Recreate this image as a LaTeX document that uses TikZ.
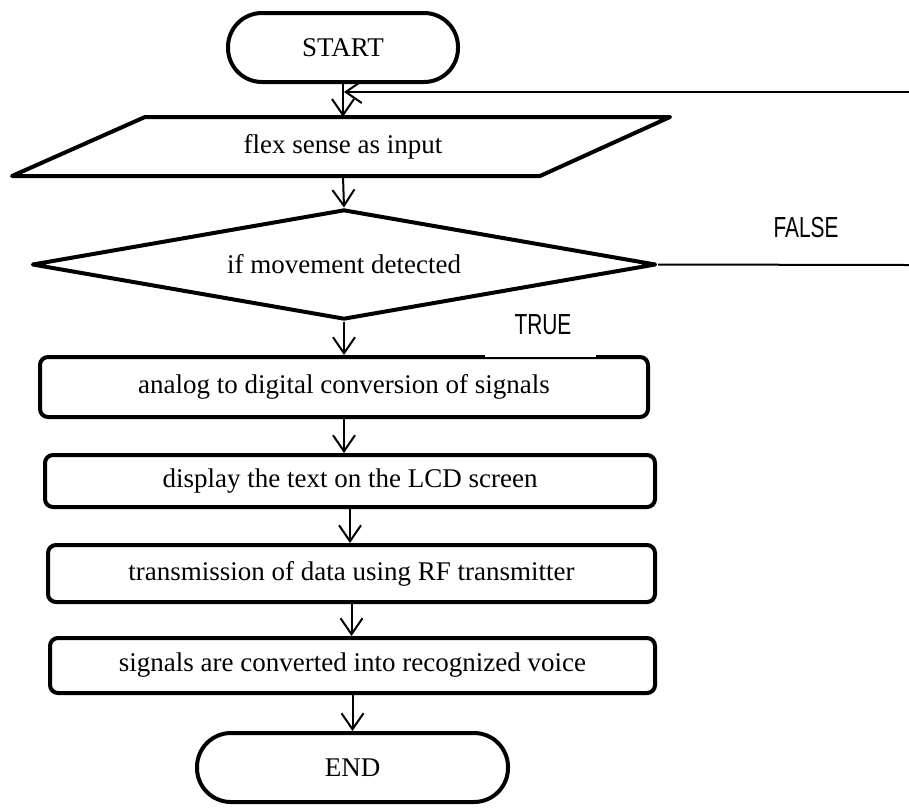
\documentclass[tikz,border=0pt]{standalone}
\usepackage{fontspec}
\setmainfont{Liberation Serif}
\newfontfamily\narrowsans[FakeStretch=0.72]{Liberation Sans}
\usetikzlibrary{shapes.geometric,arrows.meta}
\begin{document}
\begin{tikzpicture}[x=1pt,y=-1pt,
  every node/.style={font=\fontsize{27}{30}\selectfont},
  term/.style={draw, line width=4pt, rounded corners=34pt, inner sep=0pt, minimum height=69pt},
  procbox/.style={draw, line width=4pt, rounded corners=8pt, inner sep=0pt},
  shapeline/.style={line width=4pt, line join=round},
  arr/.style={line width=2pt, -{Straight Barb[length=16pt,width=22pt]}},
  plainline/.style={line width=2pt},
  lbl/.style={font=\narrowsans\fontsize{29}{32}\selectfont, inner sep=0pt}
]
\useasboundingbox (0,0) rectangle (909,807);

% terminals
\node[term, minimum width=230pt] (start) at (343,47.5) {\raisebox{-4pt}{START}};
\node[term, minimum width=311pt] (end) at (352.5,767.5) {\raisebox{-4pt}{END}};

% input parallelogram
\draw[shapeline] (145,117) -- (670,117) -- (540,176) -- (12,176) -- cycle;
\node[inner sep=0pt, minimum width=400pt, minimum height=59pt] (inp) at (343,146.5) {flex sense as input};

% decision
\node[draw, diamond, shapeline, inner sep=0pt, aspect=5.67, minimum width=624pt, minimum height=110pt] (dec) at (344,264.5) {if movement detected};

% process boxes
\node[procbox, minimum width=608pt, minimum height=60pt] (b1) at (344,387) {analog to digital conversion of signals};
\node[procbox, minimum width=610pt, minimum height=52pt] (b2) at (350,481) {display the text on the LCD screen};
\node[procbox, minimum width=607pt, minimum height=57pt] (b3) at (351.5,573.5) {transmission of data using RF transmitter};
\node[procbox, minimum width=605pt, minimum height=55pt] (b4) at (352.5,665.5) {signals are converted into recognized voice};

% white patch behind TRUE label
\fill[white] (485,302) rectangle (596,357);

% labels
\node[lbl] (ltrue) at (543,325) {TRUE};
\node[lbl] (lfalse) at (806,227.5) {FALSE};

% connectors
\coordinate (fbright) at (909,92);
\coordinate (fbtip) at (344,92);
\coordinate (falseright) at (909,265);

\draw[arr] (start.south) -- (start.south |- inp.north);
\draw[arr] (fbright) -- (fbtip);
\draw[arr] (inp.south) -- (dec.north);
\draw[plainline] (dec.east) -- (falseright);
\draw[arr] (dec.south) -- (dec.south |- b1.north);
\draw[arr] (b1.south) -- (b1.south |- b2.north);
\draw[arr] (b2.south) -- (b2.south |- b3.north);
\draw[arr] (b3.south) -- (b3.south |- b4.north);
\draw[arr] (b4.south) -- (b4.south |- end.north);
\end{tikzpicture}
\end{document}
